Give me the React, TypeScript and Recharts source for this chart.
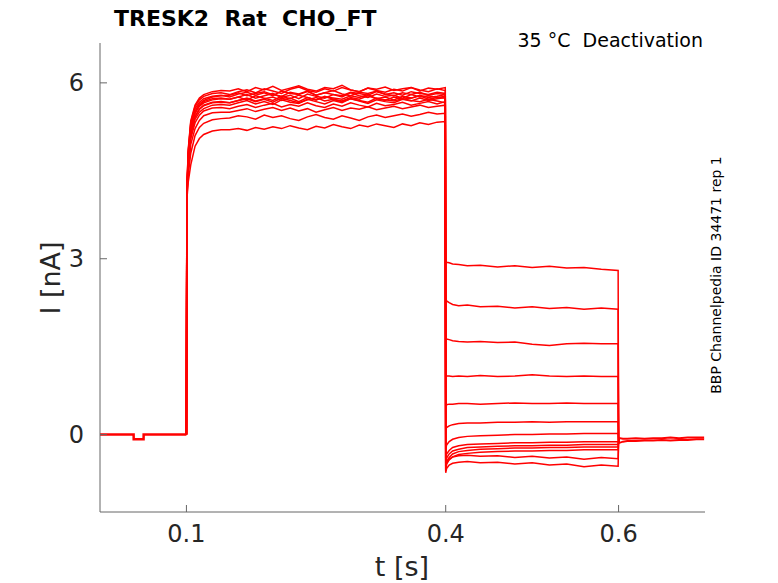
import React from 'react';
import { LineChart, Line, XAxis, YAxis } from 'recharts';

// ---- data ----
const X_TICKS = [0.1, 0.4, 0.6];
const Y_TICKS = [0, 3, 6];

// holding period (all sweeps overlap)
const TIME_BASE = [0, 0.01, 0.02, 0.03, 0.0389, 0.039, 0.0504, 0.0505, 0.06, 0.07, 0.08, 0.09, 0.1];
const CURRENT_BASE = [0.0, 0.0, 0.0, 0.0, 0.0, -0.08, -0.08, 0.0, 0.0, 0.0, 0.0, 0.0, 0.0];

// activation pulse + deactivation step
const TIME_SWEEP = [
  0.1, 0.1005, 0.102, 0.105, 0.11, 0.115, 0.12, 0.13, 0.14,
  0.15, 0.16, 0.17, 0.18, 0.19, 0.2, 0.21, 0.22, 0.23, 0.24, 0.25, 0.26, 0.27,
  0.28, 0.29, 0.3, 0.31, 0.32, 0.33, 0.34, 0.35, 0.36, 0.37, 0.38, 0.39, 0.3995,
  0.4, 0.401, 0.404, 0.408, 0.415, 0.425, 0.44, 0.46, 0.48, 0.5, 0.52, 0.54, 0.56, 0.58, 0.5995, 0.6,
];

const SWEEP_A = [
  0, 4.1, 4.75, 5.25, 5.52, 5.64, 5.7, 5.76, 5.78,
  5.79, 5.83, 5.78, 5.82, 5.85, 5.8, 5.77, 5.84, 5.81, 5.86, 5.79, 5.83, 5.8, 5.78, 5.84, 5.82, 5.79, 5.85, 5.81, 5.78, 5.83, 5.8, 5.84, 5.79, 5.82, 5.8,
  2.96, 2.94, 2.93, 2.91, 2.9, 2.88, 2.89, 2.86, 2.88, 2.85, 2.87, 2.84, 2.85, 2.82, 2.8, -0.1,
];
const SWEEP_B = [
  0, 4.15, 4.85, 5.35, 5.62, 5.74, 5.8, 5.85, 5.87,
  5.86, 5.9, 5.85, 5.92, 5.88, 5.94, 5.87, 5.91, 5.95, 5.89, 5.86, 5.92, 5.9, 5.96, 5.88, 5.85, 5.91, 5.89, 5.93, 5.87, 5.9, 5.92, 5.86, 5.91, 5.89, 5.92,
  2.32, 2.28, 2.25, 2.22, 2.2, 2.21, 2.18, 2.19, 2.16, 2.18, 2.15, 2.17, 2.14, 2.16, 2.14, -0.1,
];
const SWEEP_C = [
  0, 4.1, 4.7, 5.2, 5.48, 5.6, 5.66, 5.71, 5.73,
  5.72, 5.76, 5.71, 5.78, 5.74, 5.7, 5.77, 5.73, 5.79, 5.75, 5.71, 5.76, 5.74, 5.72, 5.78, 5.75, 5.8, 5.73, 5.76, 5.71, 5.77, 5.74, 5.78, 5.72, 5.75, 5.74,
  1.66, 1.63, 1.62, 1.6, 1.59, 1.58, 1.59, 1.57, 1.58, 1.54, 1.52, 1.55, 1.56, 1.55, 1.55, -0.1,
];
const SWEEP_D = [
  0, 4.1, 4.65, 5.15, 5.43, 5.55, 5.62, 5.67, 5.68,
  5.66, 5.7, 5.73, 5.68, 5.72, 5.67, 5.74, 5.7, 5.66, 5.71, 5.75, 5.69, 5.72, 5.68, 5.73, 5.7, 5.67, 5.74, 5.71, 5.69, 5.73, 5.7, 5.68, 5.72, 5.69, 5.66,
  1.02, 1.0, 1.0, 0.99, 1.0, 0.99, 1.01, 0.99, 1.0, 1.02, 1.0, 0.99, 1.0, 0.99, 0.99, -0.1,
];
const SWEEP_E = [
  0, 4.12, 4.8, 5.3, 5.56, 5.67, 5.73, 5.77, 5.79,
  5.76, 5.81, 5.84, 5.79, 5.83, 5.78, 5.86, 5.82, 5.8, 5.85, 5.79, 5.83, 5.87, 5.81, 5.78, 5.84, 5.82, 5.86, 5.8, 5.83, 5.79, 5.85, 5.82, 5.8, 5.84, 5.82,
  0.5, 0.51, 0.52, 0.52, 0.53, 0.53, 0.52, 0.53, 0.54, 0.53, 0.53, 0.54, 0.53, 0.53, 0.53, -0.1,
];
const SWEEP_F = [
  0, 4.15, 4.82, 5.32, 5.6, 5.71, 5.77, 5.82, 5.83,
  5.8, 5.85, 5.88, 5.83, 5.9, 5.86, 5.82, 5.89, 5.93, 5.87, 5.84, 5.9, 5.86, 5.92, 5.88, 5.85, 5.91, 5.87, 5.84, 5.89, 5.86, 5.92, 5.88, 5.85, 5.9, 5.87,
  0.08, 0.12, 0.15, 0.17, 0.19, 0.2, 0.2, 0.21, 0.21, 0.22, 0.21, 0.22, 0.22, 0.22, 0.22, -0.1,
];
const SWEEP_G = [
  0, 4.1, 4.72, 5.22, 5.5, 5.62, 5.68, 5.73, 5.74,
  5.72, 5.76, 5.8, 5.74, 5.78, 5.82, 5.75, 5.79, 5.73, 5.81, 5.77, 5.74, 5.8, 5.76, 5.83, 5.78, 5.75, 5.81, 5.77, 5.79, 5.74, 5.8, 5.76, 5.78, 5.75, 5.77,
  -0.25, -0.18, -0.12, -0.08, -0.05, -0.03, -0.02, -0.01, 0.0, 0.0, 0.01, 0.01, 0.02, 0.02, 0.02, -0.1,
];
const SWEEP_H = [
  0, 4.08, 4.62, 5.1, 5.38, 5.5, 5.56, 5.62, 5.63,
  5.62, 5.66, 5.7, 5.64, 5.68, 5.63, 5.71, 5.67, 5.65, 5.72, 5.68, 5.64, 5.7, 5.66, 5.73, 5.69, 5.65, 5.71, 5.68, 5.66, 5.72, 5.69, 5.74, 5.7, 5.73, 5.75,
  -0.4, -0.33, -0.27, -0.22, -0.19, -0.17, -0.16, -0.15, -0.14, -0.14, -0.13, -0.13, -0.12, -0.12, -0.12, -0.1,
];
const SWEEP_I = [
  0, 4.1, 4.66, 5.14, 5.42, 5.55, 5.61, 5.66, 5.67,
  5.66, 5.7, 5.74, 5.69, 5.73, 5.76, 5.7, 5.74, 5.68, 5.75, 5.71, 5.77, 5.72, 5.69, 5.75, 5.72, 5.78, 5.73, 5.7, 5.76, 5.72, 5.74, 5.79, 5.75, 5.77, 5.8,
  -0.48, -0.4, -0.33, -0.28, -0.25, -0.22, -0.21, -0.2, -0.19, -0.19, -0.18, -0.18, -0.17, -0.17, -0.17, -0.1,
];
const SWEEP_J = [
  0, 4.06, 4.58, 5.05, 5.32, 5.45, 5.52, 5.57, 5.58,
  5.56, 5.6, 5.63, 5.58, 5.62, 5.65, 5.59, 5.63, 5.6, 5.66, 5.61, 5.58, 5.64, 5.6, 5.66, 5.62, 5.59, 5.65, 5.61, 5.63, 5.67, 5.62, 5.65, 5.68, 5.64, 5.68,
  -0.55, -0.46, -0.39, -0.33, -0.29, -0.27, -0.25, -0.24, -0.23, -0.23, -0.22, -0.22, -0.21, -0.21, -0.21, -0.1,
];
const SWEEP_K = [
  0, 4.05, 4.5, 4.95, 5.22, 5.36, 5.44, 5.49, 5.5,
  5.5, 5.53, 5.56, 5.51, 5.55, 5.58, 5.53, 5.57, 5.52, 5.56, 5.5, 5.54, 5.58, 5.53, 5.57, 5.55, 5.59, 5.54, 5.57, 5.6, 5.56, 5.59, 5.62, 5.58, 5.6, 5.62,
  -0.6, -0.5, -0.43, -0.38, -0.34, -0.32, -0.3, -0.29, -0.28, -0.28, -0.27, -0.27, -0.26, -0.26, -0.26, -0.1,
];
const SWEEP_L = [
  0, 4.03, 4.42, 4.8, 5.1, 5.24, 5.31, 5.37, 5.39,
  5.4, 5.44, 5.42, 5.38, 5.45, 5.41, 5.44, 5.39, 5.36, 5.42, 5.46, 5.41, 5.38, 5.44, 5.4, 5.36, 5.42, 5.45, 5.41, 5.44, 5.47, 5.43, 5.46, 5.5, 5.47, 5.48,
  -0.62, -0.5, -0.42, -0.38, -0.36, -0.35, -0.37, -0.36, -0.39, -0.37, -0.4, -0.38, -0.42, -0.39, -0.41, -0.1,
];
const SWEEP_M = [
  0, 4.0, 4.3, 4.6, 4.92, 5.05, 5.12, 5.18, 5.2,
  5.2, 5.22, 5.19, 5.24, 5.21, 5.25, 5.22, 5.27, 5.23, 5.2, 5.26, 5.23, 5.29, 5.25, 5.22, 5.28, 5.25, 5.3, 5.27, 5.24, 5.3, 5.27, 5.32, 5.29, 5.33, 5.34,
  -0.65, -0.58, -0.52, -0.49, -0.47, -0.46, -0.48, -0.47, -0.5, -0.48, -0.52, -0.5, -0.55, -0.52, -0.54, -0.1,
];

// return to holding (sweeps overlap)
const TIME_TAIL = [0.6, 0.601, 0.605, 0.61, 0.62, 0.63, 0.64, 0.65, 0.66, 0.67, 0.68, 0.69, 0.699];
const TAIL_1 = [-0.1, -0.14, -0.12, -0.11, -0.11, -0.1, -0.1, -0.09, -0.1, -0.09, -0.09, -0.08, -0.08];
const TAIL_2 = [-0.1, -0.06, -0.07, -0.07, -0.06, -0.07, -0.06, -0.06, -0.05, -0.06, -0.05, -0.05, -0.05];

const SWEEPS = [SWEEP_A, SWEEP_B, SWEEP_C, SWEEP_D, SWEEP_E, SWEEP_F, SWEEP_G, SWEEP_H, SWEEP_I, SWEEP_J, SWEEP_K, SWEEP_L, SWEEP_M];

const toRows = (ts: number[], vs: number[]) => ts.map((t, k) => ({ t, i: vs[k] }));

const FONT = 'DejaVu Sans, Verdana, sans-serif';
const AXIS = '#666666';
const TEXT = '#262626';
const RED = '#ff0000';

const XTick = (props: any) => {
  const { x, y, payload } = props;
  return (
    <g>
      <line x1={x} x2={x} y1={y} y2={y - 7} stroke={AXIS} strokeWidth={1} />
      <text x={x} y={y + 30} textAnchor="middle" fontSize={24} fill={TEXT} fontFamily={FONT}>
        {payload.value}
      </text>
    </g>
  );
};

const YTick = (props: any) => {
  const { x, y, payload } = props;
  return (
    <g>
      <line x1={x} x2={x + 7} y1={y} y2={y} stroke={AXIS} strokeWidth={1} />
      <text x={x - 16} y={y + 8.5} textAnchor="end" fontSize={24} fill={TEXT} fontFamily={FONT}>
        {payload.value}
      </text>
    </g>
  );
};

export default function App() {
  return (
    <div style={{ position: 'relative', width: 778, height: 583, background: '#fff' }}>
      <style>{`body{margin:0;}`}</style>
      <LineChart
        width={778}
        height={583}
        margin={{ top: 43, right: 73, bottom: 41, left: 40 }}
      >
        <XAxis
          dataKey="t"
          type="number"
          domain={[0, 0.7]}
          ticks={X_TICKS}
          allowDataOverflow
          height={30}
          tickSize={0}
          tickMargin={0}
          tickLine={false}
          axisLine={{ stroke: AXIS, strokeWidth: 1 }}
          tick={<XTick />}
          interval={0}
        />
        <YAxis
          type="number"
          domain={[-1.32, 6.68]}
          ticks={Y_TICKS}
          allowDataOverflow
          width={60}
          tickSize={0}
          tickMargin={0}
          tickLine={false}
          axisLine={{ stroke: AXIS, strokeWidth: 1 }}
          tick={<YTick />}
          interval={0}
        />
        <Line
          data={toRows(TIME_BASE, CURRENT_BASE)}
          dataKey="i"
          type="linear"
          stroke={RED}
          strokeWidth={2.5}
          dot={false}
          activeDot={false}
          isAnimationActive={false}
        />
        {SWEEPS.map((s, k) => (
          <Line
            key={k}
            data={toRows(TIME_SWEEP, s)}
            dataKey="i"
            type="linear"
            stroke={RED}
            strokeWidth={1.5}
            dot={false}
            activeDot={false}
            isAnimationActive={false}
          />
        ))}
        <Line
          data={toRows(TIME_TAIL, TAIL_1)}
          dataKey="i"
          type="linear"
          stroke={RED}
          strokeWidth={2}
          dot={false}
          activeDot={false}
          isAnimationActive={false}
        />
        <Line
          data={toRows(TIME_TAIL, TAIL_2)}
          dataKey="i"
          type="linear"
          stroke={RED}
          strokeWidth={2}
          dot={false}
          activeDot={false}
          isAnimationActive={false}
        />
      </LineChart>
      <svg
        width={778}
        height={583}
        style={{ position: 'absolute', left: 0, top: 0, pointerEvents: 'none' }}
      >
        <text x={114} y={26} fontSize={22} fontWeight="bold" fill="#000" fontFamily={FONT} style={{ whiteSpace: 'pre' }}>
          {'TRESK2  Rat  CHO_FT'}
        </text>
        <text x={703} y={47} fontSize={19} textAnchor="end" fill="#000" fontFamily={FONT} style={{ whiteSpace: 'pre' }}>
          {'35 °C  Deactivation'}
        </text>
        <text x={402} y={576} fontSize={27} textAnchor="middle" fill={TEXT} fontFamily={FONT}>
          t [s]
        </text>
        <text
          x={0}
          y={0}
          fontSize={27}
          textAnchor="middle"
          fill={TEXT}
          fontFamily={FONT}
          transform="translate(60 278) rotate(-90)"
        >
          I [nA]
        </text>
        <text
          x={0}
          y={0}
          fontSize={14}
          textAnchor="middle"
          fill="#000"
          fontFamily={FONT}
          transform="translate(721 275) rotate(-90)"
        >
          BBP Channelpedia ID 34471 rep 1
        </text>
      </svg>
    </div>
  );
}
